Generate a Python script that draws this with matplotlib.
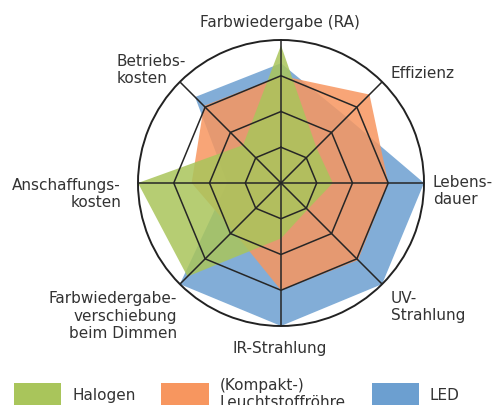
import numpy as np
import matplotlib
matplotlib.use("Agg")
import matplotlib.pyplot as plt
from matplotlib.patches import Patch

# achsen im uhrzeigersinn, oben beginnend
achsen = ["Farbwiedergabe (RA)", "Effizienz", "Lebens-\ndauer", "UV-\nStrahlung",
          "IR-Strahlung", "Farbwiedergabe-\nverschiebung\nbeim Dimmen",
          "Anschaffungs-\nkosten", "Betriebs-\nkosten"]
halogen = [3.85, 1.4, 1.45, 1.05, 1.55, 3.7, 4.0, 1.5]
leucht = [3.0, 3.5, 3.0, 3.05, 3.0, 1.9, 2.5, 3.05]
led = [3.35, 2.6, 4.0, 4.0, 4.0, 4.0, 1.5, 3.4]
ringe = [1, 2, 3]
rmax = 4

serien = ["Halogen", "(Kompakt-)\nLeuchtstoffröhre", "LED"]
farben = ["#a9c55b", "#f7965f", "#6c9fd0"]

n = len(achsen)
theta = np.arange(n) * 2 * np.pi / n

def zu(werte):
    w = list(werte)
    return np.append(theta, theta[0]), np.array(w + w[:1])

W, H = 492, 405
fig = plt.figure(figsize=(W / 100, H / 100), dpi=100)
cx, cy, rad = 281, 183, 143
ax = fig.add_axes([(cx - rad) / W, 1 - (cy + rad) / H, 2 * rad / W, 2 * rad / H],
                  projection="polar")
ax.set_theta_zero_location("N")
ax.set_theta_direction(-1)
ax.set_ylim(0, rmax)
ax.set_xticks([])
ax.set_yticks([])
ax.grid(False)
ax.spines["polar"].set_color("#222222")
ax.spines["polar"].set_linewidth(1.4)

# flaechen: LED unten, dann Leuchtstoff, Halogen oben
for werte, f in [(led, farben[2]), (leucht, farben[1]), (halogen, farben[0])]:
    t, r = zu(werte)
    ax.fill(t, r, color=f, alpha=0.85, lw=0, zorder=2)

# achteckiges netz
for ring in ringe:
    t, r = zu([ring] * n)
    ax.plot(t, r, color="#262626", lw=1.1, zorder=3)
for th in theta:
    ax.plot([th, th], [0, rmax], color="#262626", lw=1.1, zorder=3)

tc = "#333333"
fs = 11
ls = 1.2
fig.text(280 / W, 1 - 23 / H, achsen[0], ha="center", va="center", fontsize=fs, color=tc)
fig.text(390 / W, 1 - 73 / H, achsen[1], ha="left", va="center", fontsize=fs, color=tc)
fig.text(433 / W, 1 - 191 / H, achsen[2], ha="left", va="center", fontsize=fs, color=tc,
         linespacing=ls)
fig.text(391 / W, 1 - 307 / H, achsen[3], ha="left", va="center", fontsize=fs, color=tc,
         linespacing=ls)
fig.text(280 / W, 1 - 348 / H, achsen[4], ha="center", va="center", fontsize=fs, color=tc)
fig.text(177 / W, 1 - 316 / H, achsen[5], ha="right", va="center", fontsize=fs, color=tc,
         linespacing=ls, multialignment="right")
fig.text(121 / W, 1 - 194 / H, achsen[6], ha="right", va="center", fontsize=fs, color=tc,
         linespacing=ls, multialignment="right")
fig.text(117 / W, 1 - 70 / H, achsen[7], ha="left", va="center", fontsize=fs, color=tc,
         linespacing=ls)

handles = [Patch(facecolor=f, edgecolor="none") for f in farben]
leg = fig.legend(handles, serien, loc="upper left", bbox_to_anchor=(14 / W, 1 - 378 / H),
                 ncol=3, frameon=False, fontsize=fs, handlelength=3.1, handleheight=2.2,
                 handletextpad=0.7, columnspacing=1.7, borderpad=0, borderaxespad=0)
for txt in leg.get_texts():
    txt.set_color(tc)
    txt.set_linespacing(ls)

fig.savefig("out.png", dpi=100)
